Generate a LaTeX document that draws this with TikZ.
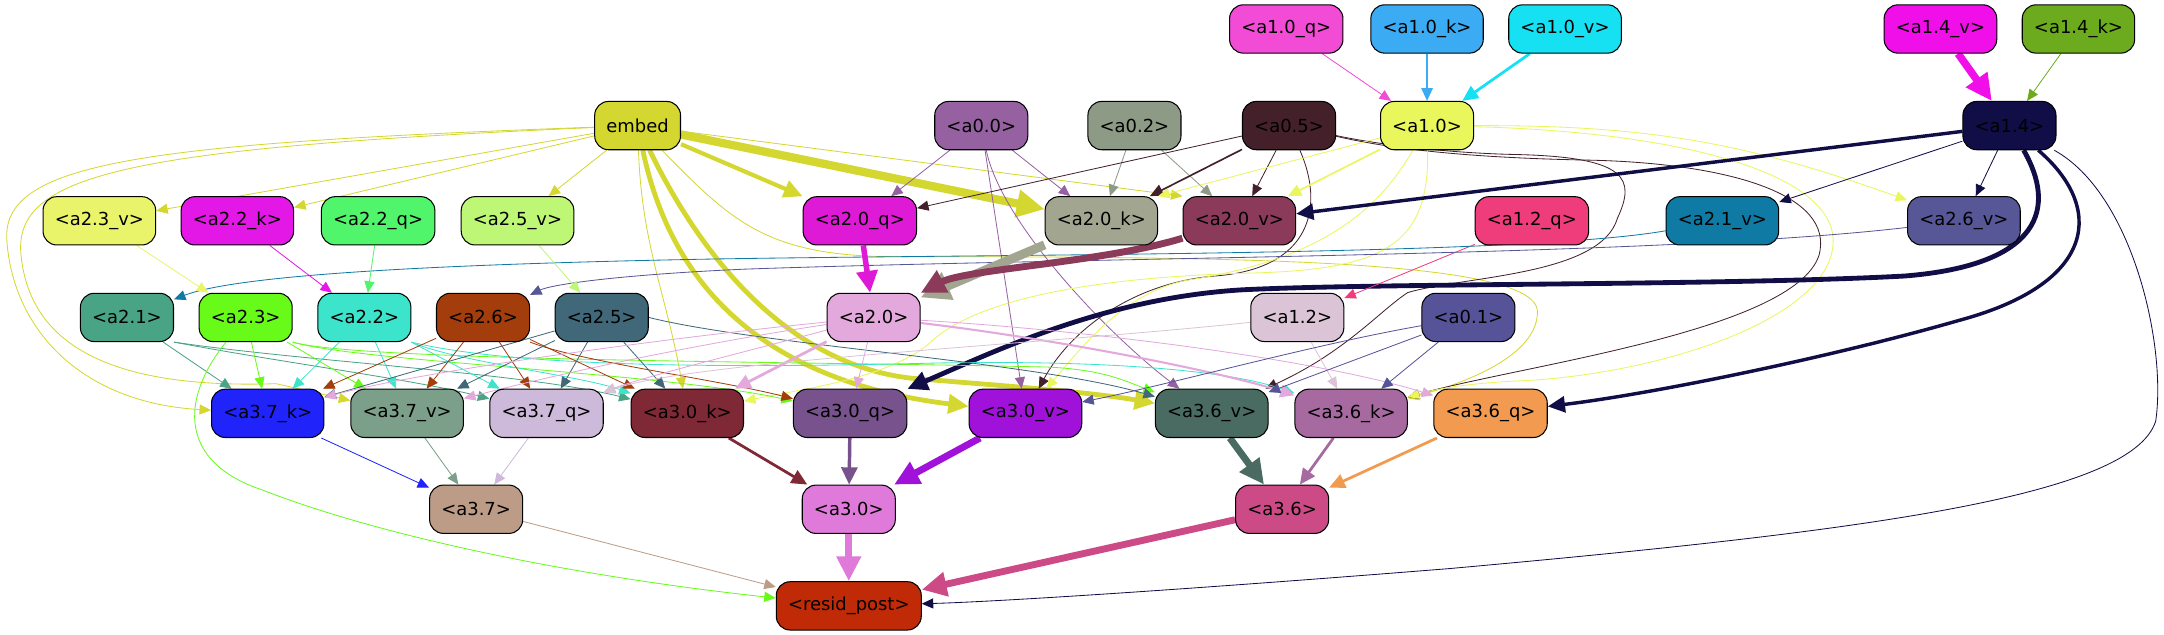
\documentclass[tikz,border=0pt]{standalone}
\usepackage{fontspec}
\newfontfamily\nodefont{DejaVu Sans}
\usetikzlibrary{arrows.meta,backgrounds}

\definecolor{cembed}{HTML}{D4D72F}
\definecolor{ca00}{HTML}{9561A1}
\definecolor{ca02}{HTML}{8C9A86}
\definecolor{ca05}{HTML}{43202A}
\definecolor{ca01}{HTML}{575399}
\definecolor{ca10q}{HTML}{F24BD6}
\definecolor{ca10k}{HTML}{3BACF3}
\definecolor{ca10v}{HTML}{16E1F3}
\definecolor{ca10}{HTML}{E9F65C}
\definecolor{ca14v}{HTML}{F00EE9}
\definecolor{ca14k}{HTML}{6BAB1D}
\definecolor{ca14}{HTML}{110E47}
\definecolor{ca12q}{HTML}{EF3C7B}
\definecolor{ca12}{HTML}{DBC4D6}
\definecolor{ca23v}{HTML}{EAF46A}
\definecolor{ca22k}{HTML}{E317E6}
\definecolor{ca22q}{HTML}{50F56B}
\definecolor{ca25v}{HTML}{BEF776}
\definecolor{ca20q}{HTML}{DF1AD6}
\definecolor{ca20k}{HTML}{A2A690}
\definecolor{ca20v}{HTML}{8B3A59}
\definecolor{ca21v}{HTML}{0F7AA4}
\definecolor{ca26v}{HTML}{575696}
\definecolor{ca21}{HTML}{49A385}
\definecolor{ca23}{HTML}{68FB1A}
\definecolor{ca22}{HTML}{3BE4CA}
\definecolor{ca26}{HTML}{A33D0B}
\definecolor{ca25}{HTML}{416879}
\definecolor{ca20}{HTML}{E3A8DC}
\definecolor{ca37k}{HTML}{2024FA}
\definecolor{ca37v}{HTML}{7B9F89}
\definecolor{ca37q}{HTML}{CDB9D9}
\definecolor{ca30k}{HTML}{7F2836}
\definecolor{ca30q}{HTML}{77528C}
\definecolor{ca30v}{HTML}{A011DA}
\definecolor{ca36v}{HTML}{4A6B62}
\definecolor{ca36k}{HTML}{A66AA1}
\definecolor{ca36q}{HTML}{F29B50}
\definecolor{ca37}{HTML}{BC9C87}
\definecolor{ca30}{HTML}{E07ADA}
\definecolor{ca36}{HTML}{CC4B87}
\definecolor{cresid}{HTML}{C02A07}

\tikzset{
  blk/.style={draw=black, line width=0.75pt, rounded corners=10pt, minimum height=35pt,
    inner xsep=8.5pt, inner ysep=0pt, text=black, font=\nodefont\fontsize{13}{15}\selectfont},
  lnk/.style={line width=#1, -{Triangle[length=7pt 2.2, width=6pt 2.2]}},
  lnk/.default=0.6pt
}

\begin{document}
\begin{tikzpicture}[x=1pt, y=-1pt]
\useasboundingbox (0,0) rectangle (1568,460);

\node[blk, fill=ca10q] (a10q) at (932,21) {<a1.0\_q>};
\node[blk, fill=ca10k] (a10k) at (1034,21) {<a1.0\_k>};
\node[blk, fill=ca10v] (a10v) at (1134,21) {<a1.0\_v>};
\node[blk, fill=ca14v] (a14v) at (1406,21) {<a1.4\_v>};
\node[blk, fill=ca14k] (a14k) at (1506,21) {<a1.4\_k>};

\node[blk, fill=cembed] (embed) at (462,91) {embed};
\node[blk, fill=ca00] (a00) at (711,91) {<a0.0>};
\node[blk, fill=ca02] (a02) at (822,91) {<a0.2>};
\node[blk, fill=ca05] (a05) at (934,91) {<a0.5>};
\node[blk, fill=ca10] (a10) at (1034,91) {<a1.0>};
\node[blk, fill=ca14] (a14) at (1456,91) {<a1.4>};

\node[blk, fill=ca23v] (a23v) at (72,160) {<a2.3\_v>};
\node[blk, fill=ca22k] (a22k) at (172,160) {<a2.2\_k>};
\node[blk, fill=ca22q] (a22q) at (274,160) {<a2.2\_q>};
\node[blk, fill=ca25v] (a25v) at (375,160) {<a2.5\_v>};
\node[blk, fill=ca20q] (a20q) at (623,160) {<a2.0\_q>};
\node[blk, fill=ca20k] (a20k) at (798,160) {<a2.0\_k>};
\node[blk, fill=ca20v] (a20v) at (898,160) {<a2.0\_v>};
\node[blk, fill=ca12q] (a12q) at (1110,160) {<a1.2\_q>};
\node[blk, fill=ca21v] (a21v) at (1248,160) {<a2.1\_v>};
\node[blk, fill=ca26v] (a26v) at (1423,160) {<a2.6\_v>};

\node[blk, fill=ca21] (a21) at (92,230) {<a2.1>};
\node[blk, fill=ca23] (a23) at (178,230) {<a2.3>};
\node[blk, fill=ca22] (a22) at (264,230) {<a2.2>};
\node[blk, fill=ca26] (a26) at (350,230) {<a2.6>};
\node[blk, fill=ca25] (a25) at (436,230) {<a2.5>};
\node[blk, fill=ca20] (a20) at (633,230) {<a2.0>};
\node[blk, fill=ca12] (a12) at (940,230) {<a1.2>};
\node[blk, fill=ca01] (a01) at (1064,230) {<a0.1>};

\node[blk, fill=ca37k] (a37k) at (194,299.5) {<a3.7\_k>};
\node[blk, fill=ca37v] (a37v) at (295,299.5) {<a3.7\_v>};
\node[blk, fill=ca37q] (a37q) at (396,299.5) {<a3.7\_q>};
\node[blk, fill=ca30k] (a30k) at (498,299.5) {<a3.0\_k>};
\node[blk, fill=ca30q] (a30q) at (616,299.5) {<a3.0\_q>};
\node[blk, fill=ca30v] (a30v) at (743,299.5) {<a3.0\_v>};
\node[blk, fill=ca36v] (a36v) at (878,299.5) {<a3.6\_v>};
\node[blk, fill=ca36k] (a36k) at (979,299.5) {<a3.6\_k>};
\node[blk, fill=ca36q] (a36q) at (1080,299.5) {<a3.6\_q>};

\node[blk, fill=ca37] (a37) at (345,369) {<a3.7>};
\node[blk, fill=ca30] (a30) at (615,369) {<a3.0>};
\node[blk, fill=ca36] (a36) at (929,369) {<a3.6>};

\node[blk, fill=cresid] (resid) at (615,439) {<resid\_post>};

\begin{scope}[on background layer]
\draw[lnk, ca10q] (a10q) -- (a10);
\draw[lnk=1pt, ca10k] (a10k) -- (a10);
\draw[lnk=2pt, ca10v] (a10v) -- (a10);
\draw[lnk=5.5pt, ca14v] (a14v) -- (a14);
\draw[lnk, ca14k] (a14k) -- (a14);

\draw[lnk, cembed] (embed) -- (a23v);
\draw[lnk, cembed] (embed) -- (a22k);
\draw[lnk, cembed] (embed) -- (a25v);
\draw[lnk=3pt, cembed] (embed) -- (a20q);
\draw[lnk=6pt, cembed] (embed) -- (a20k);
\draw[lnk, cembed] (embed) -- (a20v.north west);
\draw[lnk, cembed] (embed) to[out=-88, in=100] (a30k);
\draw[lnk=3.5pt, cembed] (embed) .. controls (485,200) and (545,275) .. (a30v);
\draw[lnk=3.5pt, cembed] (embed) .. controls (515,200) and (580,265) .. (660,274) .. controls (720,279) and (790,284) .. (a36v);
\draw[lnk, cembed] (embed) .. controls (100,104) and (0,118) .. (5,175) .. controls (10,240) and (60,292) .. (a37k);
\draw[lnk, cembed] (embed) .. controls (100,107) and (12,125) .. (15,182) .. controls (20,250) and (80,282) .. (200,278) -- (a37v);
\draw[lnk, cembed] (embed) .. controls (530,160) and (555,186) .. (650,186) .. controls (900,186) and (1110,188) .. (1114,225) .. controls (1115,258) and (1060,278) .. (a36k);

\draw[lnk, ca00] (a00) -- (a20q);
\draw[lnk, ca00] (a00) -- (a20k);
\draw[lnk, ca00] (a00) -- (a30v);
\draw[lnk, ca00] (a00) .. controls (725,160) and (800,240) .. (a36v);
\draw[lnk, ca02] (a02) -- (a20k);
\draw[lnk, ca02] (a02) -- (a20v);
\draw[lnk, ca05] (a05) -- (a20q);
\draw[lnk=1.2pt, ca05] (a05) -- (a20k);
\draw[lnk, ca05] (a05) -- (a20v);
\draw[lnk, ca05] (a05) .. controls (960,150) and (950,195) .. (880,200) .. controls (820,205) and (775,240) .. (a30v);
\draw[lnk, ca05] (a05) .. controls (1000,105) and (1050,111) .. (1100,112) .. controls (1180,114) and (1185,130) .. (1172,158) .. controls (1160,200) and (1060,200) .. (1020,212) .. controls (1000,225) and (975,255) .. (a36v);
\draw[lnk, ca05] (a05) .. controls (1000,106) and (1050,114) .. (1150,116) .. controls (1250,118) and (1330,140) .. (1318,185) .. controls (1300,240) and (1100,265) .. (a36k);

\draw[lnk, ca10] (a10) -- (a20k.north east);
\draw[lnk=1.2pt, ca10] (a10) -- (a20v);
\draw[lnk, ca10] (a10) to[bend left=10] (a26v);
\draw[lnk, ca10] (a10) .. controls (1000,150) and (960,188) .. (860,203) .. controls (815,212) and (785,250) .. (a30v);
\draw[lnk, ca10] (a10) .. controls (1036,180) and (1000,196) .. (900,198) .. controls (770,202) and (700,222) .. (672,250) .. controls (640,275) and (580,282) .. (a30k);
\draw[lnk, ca10] (a10) .. controls (1200,95) and (1320,120) .. (1328,170) .. controls (1335,230) and (1200,272) .. (1100,276) .. controls (1060,278) and (1040,282) .. (a36k);

\draw[lnk=2.5pt, ca14] (a14) -- (a20v);
\draw[lnk, ca14] (a14) -- (a21v);
\draw[lnk, ca14] (a14) -- (a26v);
\draw[lnk=3.5pt, ca14] (a14) .. controls (1490,150) and (1480,192) .. (1380,200) .. controls (1250,207) and (1000,205) .. (900,210) .. controls (800,216) and (720,255) .. (a30q);
\draw[lnk=2.5pt, ca14] (a14) .. controls (1525,150) and (1520,205) .. (1420,232) .. controls (1330,258) and (1200,285) .. (a36q);
\draw[lnk, ca14] (a14) .. controls (1545,140) and (1570,250) .. (1562,305) .. controls (1545,360) and (1350,385) .. (1050,412) .. controls (850,428) and (720,436) .. (resid);

\draw[lnk, ca12q] (a12q) -- (a12);
\draw[lnk, ca21v] (a21v) .. controls (1100,186) and (700,184) .. (500,188) .. controls (300,192) and (170,200) .. (a21);
\draw[lnk, ca26v] (a26v) .. controls (1200,186) and (800,186) .. (540,195) .. controls (450,199) and (400,206) .. (a26);
\draw[lnk, ca23v] (a23v) -- (a23);
\draw[lnk, ca22k] (a22k) -- (a22);
\draw[lnk, ca22q] (a22q) -- (a22);
\draw[lnk, ca25v] (a25v) -- (a25);
\draw[lnk=4pt, ca20q] (a20q) -- (a20);
\draw[lnk=6.5pt, ca20k] (a20k) -- (a20);
\draw[lnk=5pt, ca20v] (a20v) .. controls (800,190) and (700,195) .. (a20);

\draw[lnk, ca21] (a21) -- (a37k);
\draw[lnk, ca21] (a21.south east) .. controls (200,262) and (300,275) .. (a37q);
\draw[lnk, ca21] (a21.south east) .. controls (220,262) and (380,270) .. (a30k);
\draw[lnk, ca23] (a23) -- (a37k);
\draw[lnk, ca23] (a23) -- (a37v);
\draw[lnk, ca23] (a23.south east) .. controls (260,262) and (480,270) .. (a30q);
\draw[lnk, ca23] (a23.south east) .. controls (260,262) and (600,262) .. (760,266) .. controls (800,268) and (815,276) .. (a36v);
\draw[lnk, ca23] (a23) .. controls (130,290) and (130,335) .. (190,355) .. controls (280,390) and (420,418) .. (resid);
\draw[lnk, ca22] (a22) -- (a37k);
\draw[lnk, ca22] (a22) -- (a37v);
\draw[lnk, ca22] (a22) -- (a37q);
\draw[lnk, ca22] (a22.south east) .. controls (330,262) and (420,272) .. (a30k);
\draw[lnk, ca22] (a22.south east) .. controls (380,268) and (560,266) .. (680,263) .. controls (800,261) and (890,268) .. (a36k);
\draw[lnk, ca26] (a26) -- (a37k);
\draw[lnk, ca26] (a26) -- (a37v);
\draw[lnk, ca26] (a26) -- (a37q);
\draw[lnk, ca26] (a26) -- (a30k);
\draw[lnk, ca26] (a26.south east) .. controls (420,262) and (520,275) .. (a30q);
\draw[lnk, ca25] (a25) -- (a37k);
\draw[lnk, ca25] (a25) -- (a37v);
\draw[lnk, ca25] (a25) -- (a37q);
\draw[lnk, ca25] (a25) -- (a30k);
\draw[lnk, ca25] (a25.east) .. controls (550,250) and (750,262) .. (a36v);
\draw[lnk, ca20] (a20) .. controls (480,245) and (300,270) .. (a37k);
\draw[lnk, ca20] (a20) .. controls (500,250) and (400,272) .. (a37v);
\draw[lnk, ca20] (a20) .. controls (540,255) and (470,272) .. (a37q);
\draw[lnk=2pt, ca20] (a20) -- (a30k);
\draw[lnk, ca20] (a20) -- (a30q);
\draw[lnk=1.5pt, ca20] (a20) .. controls (760,245) and (880,268) .. (a36k);
\draw[lnk, ca20] (a20) .. controls (800,240) and (960,262) .. (a36q);
\draw[lnk, ca12] (a12) -- (a36k);
\draw[lnk, ca12] (a12) .. controls (750,250) and (500,262) .. (a37q);
\draw[lnk, ca01] (a01) .. controls (950,250) and (850,278) .. (a30v);
\draw[lnk, ca01] (a01) -- (a36v);
\draw[lnk, ca01] (a01) -- (a36k);

\draw[lnk, ca37k] (a37k) -- (a37);
\draw[lnk, ca37v] (a37v) -- (a37);
\draw[lnk, ca37q] (a37q) -- (a37);
\draw[lnk=2pt, ca30k] (a30k) -- (a30);
\draw[lnk=2.5pt, ca30q] (a30q) -- (a30);
\draw[lnk=5pt, ca30v] (a30v) -- (a30);
\draw[lnk=5pt, ca36v] (a36v) -- (a36);
\draw[lnk=2pt, ca36k] (a36k) -- (a36);
\draw[lnk=2pt, ca36q] (a36q) -- (a36);
\draw[lnk, ca37] (a37) -- (resid);
\draw[lnk=5pt, ca30] (a30) -- (resid);
\draw[lnk=5pt, ca36] (a36) -- (resid);
\end{scope}
\end{tikzpicture}
\end{document}
